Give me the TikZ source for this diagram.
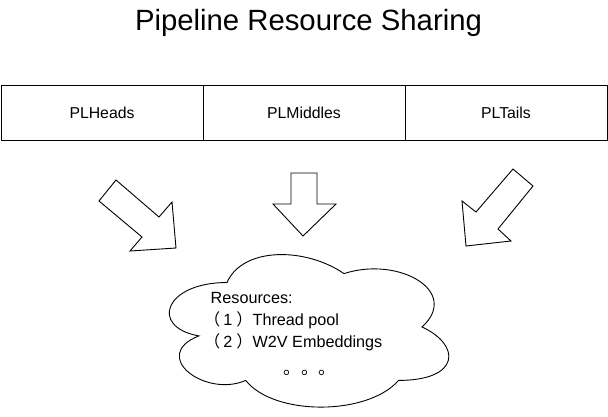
\documentclass[tikz,border=0pt]{standalone}
\usepackage{fontspec}
\setmainfont{Liberation Sans}
\newfontfamily\cjk{Noto Sans CJK SC}
\begin{document}
\begin{tikzpicture}[x=1pt,y=-1pt,
  plbox/.style={draw=black,line width=1pt,minimum width=202pt,minimum height=55pt,inner sep=0pt,font=\fontsize{15.8}{18}\selectfont},
  blockarrow/.style={draw=black,fill=white,line width=0.9pt,line join=miter},
  cloudline/.style={draw=black,fill=white,line width=0.9pt},
  cloudtext/.style={anchor=base west,inner sep=0pt,font=\fontsize{16.2}{19}\selectfont}]
\useasboundingbox (0,0) rectangle (608,416);
% title
\node[inner sep=0pt,font=\fontsize{29.3}{32}\selectfont] (title) at (308.5,23) {Pipeline Resource Sharing};
% boxes
\node[plbox] (heads) at (102,113) {PLHeads};
\node[plbox] (middles) at (304,113) {PLMiddles};
\node[plbox] (tails) at (506,113) {PLTails};
% block arrows
\draw[blockarrow] (116,180) -- (159,217) -- (172,202) -- (176,248) -- (130,251) -- (142,237) -- (99,201) -- cycle;
\draw[blockarrow] (291,173) -- (317,173) -- (317,204) -- (336,204) -- (303,236) -- (273,204) -- (291,204) -- cycle;
\draw[blockarrow] (513,169) -- (533,186) -- (498,229) -- (511,241) -- (466,246) -- (462,201) -- (476,212) -- cycle;
% cloud
\draw[cloudline] (227,282.5)
  .. controls (164.6,282.5) and (149,327) .. (198.9,335.9)
  .. controls (149,355.5) and (205.2,398.2) .. (245.7,380.4)
  .. controls (273.8,416) and (367.4,416) .. (398.6,380.4)
  .. controls (461,380.4) and (461,344.8) .. (422,327)
  .. controls (461,291.4) and (398.6,255.8) .. (344,273.6)
  .. controls (305,246.9) and (242.6,246.9) .. (227,282.5) -- cycle;
% cloud text
\node[cloudtext] (res) at (210.5,303) {Resources:};
\node[cloudtext] (item1) at (204,325) {{\cjk （}\kern3pt 1\kern4pt{\cjk ）}Thread pool};
\node[cloudtext] (item2) at (204,347) {{\cjk （}\kern3pt 2\kern4pt{\cjk ）}W2V Embeddings};
\node[cloudtext,font=\fontsize{17.5}{19}\selectfont\cjk] (dots) at (283.5,374) {。。。};
\end{tikzpicture}
\end{document}
